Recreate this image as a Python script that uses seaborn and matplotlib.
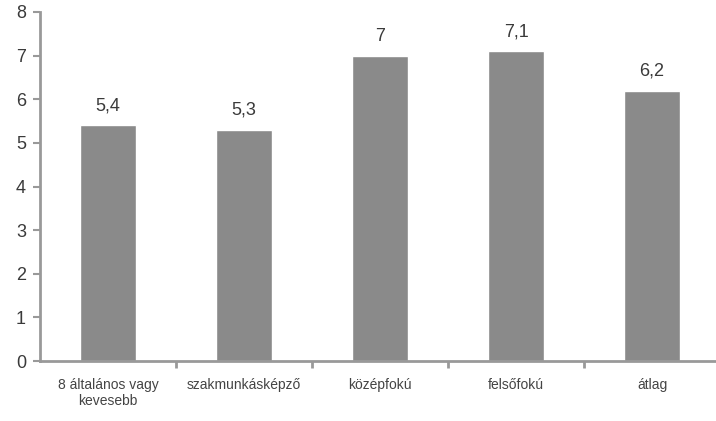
import matplotlib
matplotlib.use("Agg")
import matplotlib.pyplot as plt
import seaborn as sns
import pandas as pd
from matplotlib.ticker import FixedLocator

categories = ["8 általános vagy\nkevesebb", "szakmunkásképző", "középfokú", "felsőfokú", "átlag"]
values = [5.4, 5.3, 7.0, 7.1, 6.2]
value_labels = ["5,4", "5,3", "7", "7,1", "6,2"]
yticks = [0, 1, 2, 3, 4, 5, 6, 7, 8]

sns.set_theme(style="white")
plt.rcParams["font.family"] = ["Liberation Sans", "DejaVu Sans"]

df = pd.DataFrame({"cat": categories, "val": values})

fig = plt.figure(figsize=(7.16, 4.21), dpi=100)
ax = fig.add_axes([40/716, 60/421, 676/716, 349/421])
sns.barplot(data=df, x="cat", y="val", color="#8a8a8a", width=0.41, saturation=1, ax=ax)

ax.set_ylim(0, 8)
ax.set_xlim(-0.5, 4.47)
ax.set_yticks(yticks)
ax.set_yticklabels([str(t) for t in yticks], fontsize=13, color="#3a3a3a")
ax.set_xlabel("")
ax.set_ylabel("")
ax.tick_params(axis="x", which="major", length=0, pad=12, labelsize=10, labelcolor="#444444")
ax.xaxis.set_minor_locator(FixedLocator([0.5, 1.5, 2.5, 3.5]))
ax.tick_params(axis="x", which="minor", length=5, width=2, color="#999999", bottom=True)
ax.tick_params(axis="y", length=5, width=1.5, color="#999999", left=True, pad=5)

for s in ["top", "right"]:
    ax.spines[s].set_visible(False)
for s in ["left", "bottom"]:
    ax.spines[s].set_color("#999999")
    ax.spines[s].set_linewidth(2)

ax.bar_label(ax.containers[0], labels=value_labels, padding=8, fontsize=13, color="#3a3a3a")

fig.savefig("out.png", dpi=100)
